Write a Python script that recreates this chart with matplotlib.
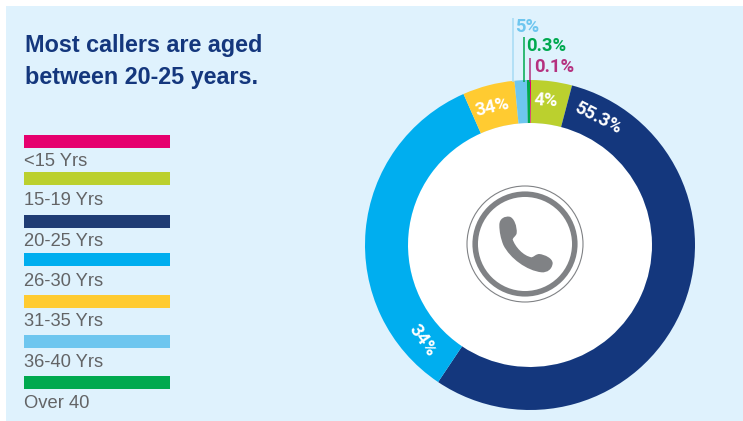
import matplotlib
matplotlib.use("Agg")
import matplotlib.pyplot as plt
from matplotlib.patches import Rectangle, Circle, PathPatch
from matplotlib.path import Path

W, H = 743, 421

# Age bands, clockwise from twelve o'clock.
# The printed labels for 31-35 and 36-40 (34%, 5%) do not agree with their arcs,
# so shares holds the arc sizes for those two and the labels stay as printed.
age_groups = ["<15 Yrs", "15-19 Yrs", "20-25 Yrs", "26-30 Yrs", "31-35 Yrs", "36-40 Yrs", "Over 40"]
shares = [0.1, 4.0, 55.3, 34.0, 5.1, 1.2, 0.3]
share_labels = ["0.1%", "4%", "55.3%", "34%", "34%", "5%", "0.3%"]
colors = ["#E6006E", "#BBD02E", "#14377D", "#00AEEF", "#FFCB31", "#6EC6EF", "#00A94F"]
legend_colors = ["#E6006E", "#BBD02E", "#1F3C74", "#00AEEF", "#FFCB31", "#6EC6EF", "#00A94F"]

PANEL = "#DFF2FD"
NAVY = "#14377D"
GREY = "#636466"
ICON = "#808285"


def Y(y):
    """Convert a top-down pixel row to the axes' bottom-up coordinate."""
    return H - y


fig = plt.figure(figsize=(W / 100, H / 100), dpi=100, facecolor="white")
ax = fig.add_axes([0, 0, 1, 1])

ax.pie(
    shares,
    colors=colors,
    startangle=90,
    counterclock=False,
    center=(530, Y(245)),
    radius=165,
    frame=True,
    wedgeprops={"width": 43, "linewidth": 0},
)
ax.set_xlim(0, W)
ax.set_ylim(0, H)
ax.set_aspect("auto")
ax.axis("off")

ax.add_patch(Rectangle((6, 0), W - 6, H - 6, facecolor=PANEL, edgecolor="none", zorder=0))

# White disc filling the hole of the ring
ax.add_patch(Circle((530, Y(245)), 122, facecolor="white", edgecolor="none", zorder=0.5))

# Title
for text, base in [("Most callers are aged", 52), ("between 20-25 years.", 84)]:
    ax.text(25, Y(base), text, family="Liberation Sans", weight="bold", fontsize=16.85,
            color=NAVY, ha="left", va="baseline")

# Legend: a colour bar above each band name
bar_tops = [135, 172, 215, 253, 295, 335, 376]
text_bases = [166, 205, 246, 286, 326, 367, 408]
for name, col, top, base in zip(age_groups, legend_colors, bar_tops, text_bases):
    ax.add_patch(Rectangle((24, Y(top + 13)), 146, 13, facecolor=col, edgecolor="none", zorder=2))
    ax.text(24, Y(base), name, family="Liberation Sans", fontsize=13.2, color=GREY,
            ha="left", va="baseline")

# Percentages printed on the ring
label_font = {"family": "Roboto", "weight": "bold", "fontsize": 13.2, "color": "white",
              "ha": "center", "va": "center", "rotation_mode": "anchor", "zorder": 5}
ring_labels = [(1, 546, 101, -3), (2, 598, 118, -27), (3, 422, 340, -55), (4, 492, 107, 13)]
for idx, x, y, rot in ring_labels:
    ax.text(x, Y(y), share_labels[idx], rotation=rot, **label_font)

# Thin slices are labelled above the ring on leader lines
callouts = [
    (5, 512.7, 18, 515, 32, "#A6DBF5", "#6EC6EF"),
    (6, 524.3, 37, 526, 51, "#00A94F", "#00A94F"),
    (0, 530.0, 58, 534, 72, "#B5317F", "#B5317F"),
]
for idx, lx, ly, tx, ty, line_col, text_col in callouts:
    ax.plot([lx, lx], [Y(ly), Y(82)], color=line_col, lw=1.1, solid_capstyle="butt", zorder=4)
    ax.text(tx, Y(ty), share_labels[idx], family="Roboto", weight="bold", fontsize=13.2,
            color=text_col, ha="left", va="baseline")

# Telephone emblem in the hole of the ring
cx, cy = 525, Y(244)
ax.add_patch(Circle((cx, cy), 58, fill=False, edgecolor=ICON, lw=0.8, zorder=3))
ax.add_patch(Circle((cx, cy), 49.8, fill=False, edgecolor=ICON, lw=4.0, zorder=3))

handset = [
    (118, 135), (118, 115), (135, 108), (148, 110),
    (162, 112), (172, 140), (170, 160),
    (168, 168), (160, 172), (158, 178),
    (165, 200), (190, 228), (215, 232),
    (222, 230), (228, 222), (238, 222),
    (255, 224), (278, 235), (278, 250),
    (276, 268), (262, 278), (245, 277),
    (200, 272), (150, 235), (130, 195),
    (122, 175), (118, 155), (118, 135),
]
verts = [(460 + px / 3, Y(180 + py / 3)) for px, py in handset]
codes = [Path.MOVETO] + [Path.CURVE4] * (len(verts) - 1)
ax.add_patch(PathPatch(Path(verts, codes), facecolor=ICON, edgecolor="none", zorder=3))

fig.savefig("out.png", dpi=100, facecolor="white")
